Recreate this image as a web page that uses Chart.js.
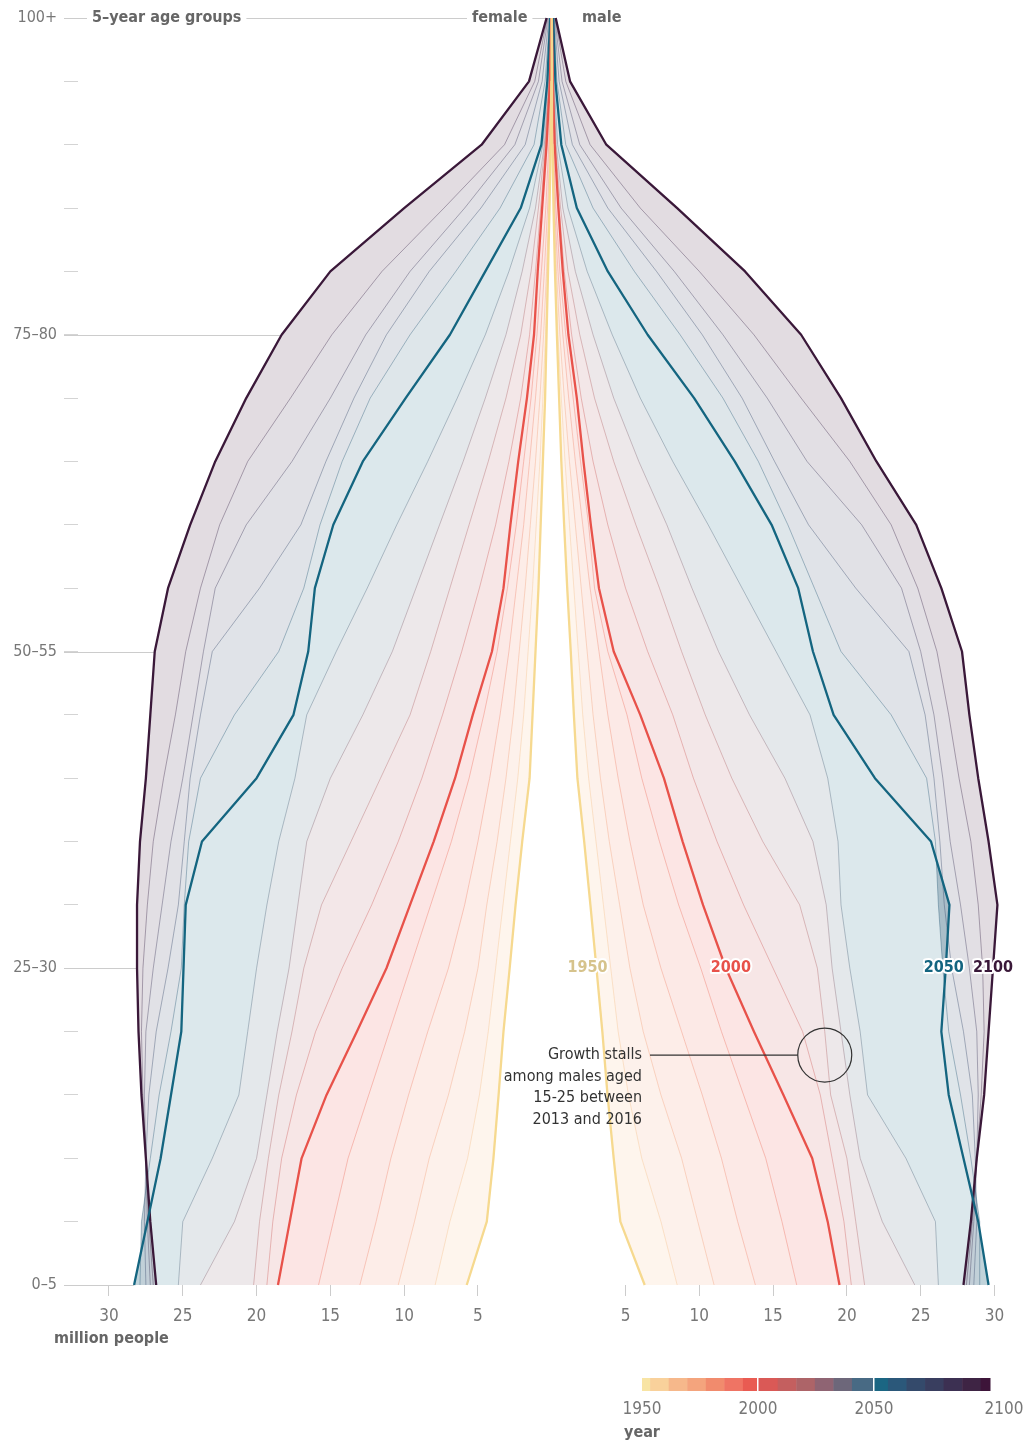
<!DOCTYPE html>
<html>
<head>
<meta charset="utf-8">
<script src="https://cdn.jsdelivr.net/npm/chart.js@4.4.1/dist/chart.umd.min.js"></script>
<style>
  html, body { margin: 0; padding: 0; background: #fff; }
  canvas { display: block; }
</style>
</head>
<body>
<canvas id="pyramid" width="1036" height="1447"></canvas>
<script>
// age groups, bottom to top
const ageGroups = ['0–5', '5–10', '10–15', '15–20', '20–25', '25–30', '30–35', '35–40', '40–45', '45–50',
  '50–55', '55–60', '60–65', '65–70', '70–75', '75–80', '80–85', '85–90', '90–95', '95–100', '100+'];
const labelledAges = [0, 5, 10, 15, 20];

const years = [1950, 1960, 1970, 1980, 1990, 2000, 2010, 2020, 2030, 2040, 2050, 2060, 2070, 2080, 2090, 2100];
const highlightYears = [1950, 2000, 2050, 2100];

// female, million people per age group
const f1950 = [5.76, 4.4, 3.95, 3.6, 3.27, 2.85, 2.45, 2.0, 1.5, 1.3, 1.1, 0.9, 0.75, 0.6, 0.45, 0.35, 0.25, 0.15, 0.07, 0.03, 0.01];
const f1960 = [7.9, 6.9, 5.7, 4.9, 4.3, 3.8, 3.3, 2.8, 2.3, 1.9, 1.6, 1.3, 1.05, 0.8, 0.6, 0.42, 0.28, 0.17, 0.08, 0.03, 0.01];
const f1970 = [10.4, 9.3, 8.3, 7.0, 5.9, 5.0, 4.4, 3.7, 3.1, 2.6, 2.2, 1.8, 1.45, 1.1, 0.8, 0.55, 0.35, 0.2, 0.1, 0.04, 0.01];
const f1980 = [13.0, 11.9, 10.9, 9.7, 8.4, 7.0, 5.9, 5.0, 4.2, 3.5, 2.9, 2.4, 1.9, 1.5, 1.1, 0.75, 0.5, 0.28, 0.13, 0.05, 0.02];
const f1990 = [15.8, 14.8, 13.8, 12.4, 11.0, 9.6, 8.2, 6.8, 5.6, 4.6, 3.7, 3.0, 2.4, 1.9, 1.4, 1.0, 0.7, 0.4, 0.2, 0.08, 0.02];
const f2000 = [18.55, 17.75, 16.95, 15.26, 13.2, 11.2, 9.6, 8.0, 6.55, 5.35, 4.05, 3.27, 2.8, 2.27, 1.68, 1.2, 0.95, 0.65, 0.35, 0.12, 0.03];
const f2010 = [19.3, 18.9, 18.3, 17.3, 16.0, 14.2, 12.2, 10.4, 8.8, 7.4, 6.1, 4.9, 3.8, 2.9, 2.1, 1.5, 1.1, 0.75, 0.4, 0.15, 0.04];
const f2020 = [20.2, 19.8, 19.2, 18.5, 17.6, 16.8, 15.6, 13.6, 11.6, 9.6, 8.2, 6.9, 5.6, 4.3, 3.1, 2.1, 1.4, 0.9, 0.45, 0.17, 0.05];
const f2030 = [23.8, 21.5, 20.0, 19.3, 18.6, 17.8, 17.2, 16.6, 15.0, 12.8, 10.8, 9.2, 7.6, 6.0, 4.5, 3.1, 2.0, 1.1, 0.5, 0.2, 0.06];
const f2040 = [25.3, 25.0, 23.0, 21.2, 20.6, 20.0, 19.3, 18.5, 17.4, 16.6, 14.6, 12.5, 10.5, 8.4, 6.4, 4.5, 2.9, 1.5, 0.6, 0.25, 0.08];
const f2050 = [28.3, 27.4, 26.5, 25.8, 25.1, 24.95, 24.8, 23.7, 20.0, 17.5, 16.5, 16.05, 14.8, 12.8, 9.9, 6.9, 4.5, 2.1, 0.7, 0.3, 0.1];
const f2060 = [27.9, 27.8, 27.2, 26.6, 25.8, 25.1, 24.9, 24.6, 23.8, 21.5, 18.5, 16.8, 15.7, 14.2, 12.3, 9.6, 6.5, 3.5, 1.2, 0.45, 0.14];
const f2070 = [27.5, 27.6, 27.5, 27.3, 26.8, 26.0, 25.3, 24.9, 24.5, 23.8, 23.0, 19.8, 17.0, 15.3, 13.4, 11.2, 8.3, 4.8, 1.8, 0.65, 0.19];
const f2080 = [27.2, 27.4, 27.5, 27.6, 27.5, 27.0, 26.4, 25.8, 25.0, 24.3, 23.6, 22.8, 20.7, 17.6, 15.0, 12.6, 9.6, 5.9, 2.5, 0.9, 0.25];
const f2090 = [27.0, 27.3, 27.5, 27.7, 27.8, 27.7, 27.4, 27.0, 26.3, 25.5, 24.8, 23.8, 22.5, 20.6, 17.7, 14.9, 11.5, 7.3, 3.2, 1.15, 0.3];
const f2100 = [26.8, 27.2, 27.5, 27.8, 28.0, 28.1, 28.1, 27.9, 27.5, 27.2, 26.9, 26.0, 24.5, 22.8, 20.7, 18.3, 15.0, 10.0, 4.75, 1.54, 0.35];

// male, million people per age group
const m1950 = [6.3, 4.65, 4.2, 3.78, 3.43, 3.03, 2.62, 2.2, 1.74, 1.5, 1.29, 1.05, 0.84, 0.65, 0.5, 0.35, 0.22, 0.12, 0.05, 0.02, 0.005];
const m1960 = [8.5, 7.4, 6.1, 5.2, 4.5, 4.0, 3.5, 3.0, 2.5, 2.1, 1.8, 1.5, 1.2, 0.9, 0.65, 0.42, 0.25, 0.13, 0.05, 0.02, 0.005];
const m1970 = [11.0, 9.9, 8.8, 7.4, 6.2, 5.3, 4.6, 3.9, 3.3, 2.8, 2.4, 2.0, 1.6, 1.2, 0.85, 0.55, 0.32, 0.16, 0.06, 0.02, 0.006];
const m1980 = [13.8, 12.6, 11.5, 10.2, 8.8, 7.4, 6.2, 5.3, 4.5, 3.8, 3.2, 2.6, 2.1, 1.6, 1.15, 0.75, 0.42, 0.2, 0.08, 0.03, 0.008];
const m1990 = [16.6, 15.6, 14.5, 13.0, 11.5, 10.1, 8.6, 7.3, 6.1, 5.1, 3.8, 2.9, 2.5, 1.95, 1.45, 0.95, 0.55, 0.28, 0.12, 0.04, 0.01];
const m2000 = [19.5, 18.7, 17.65, 15.7, 13.7, 11.8, 10.25, 8.87, 7.6, 6.0, 4.2, 3.2, 2.65, 2.15, 1.7, 1.13, 0.75, 0.45, 0.2, 0.07, 0.01];
const m2010 = [20.3, 19.8, 19.0, 18.2, 17.0, 15.0, 13.0, 11.2, 9.6, 8.2, 6.5, 5.0, 3.8, 2.8, 2.0, 1.35, 0.85, 0.5, 0.22, 0.08, 0.015];
const m2020 = [21.2, 20.6, 20.0, 18.9, 18.5, 18.0, 16.8, 14.3, 12.2, 10.4, 8.8, 7.3, 5.7, 4.2, 2.9, 1.9, 1.1, 0.6, 0.25, 0.1, 0.02];
const m2030 = [24.6, 22.4, 20.9, 20.2, 19.6, 19.0, 18.6, 17.7, 15.8, 13.4, 11.3, 9.5, 7.8, 5.9, 4.2, 2.8, 1.6, 0.75, 0.3, 0.12, 0.03];
const m2040 = [26.2, 26.0, 24.0, 21.4, 20.9, 20.2, 19.6, 19.4, 18.7, 17.5, 15.2, 12.9, 10.6, 8.2, 6.0, 4.1, 2.4, 1.1, 0.4, 0.16, 0.05];
const m2050 = [29.6, 28.9, 27.9, 26.9, 26.4, 26.7, 26.95, 25.7, 21.9, 19.1, 17.7, 16.7, 14.9, 12.4, 9.65, 6.5, 3.8, 1.7, 0.65, 0.25, 0.1];
const m2060 = [29.0, 29.0, 28.4, 27.7, 26.9, 26.5, 26.2, 26.0, 25.4, 23.0, 19.6, 17.8, 16.0, 14.0, 11.6, 8.7, 5.6, 2.8, 0.95, 0.35, 0.13];
const m2070 = [28.6, 28.8, 28.7, 28.5, 27.9, 27.1, 26.6, 26.3, 25.9, 25.3, 24.2, 20.6, 17.4, 15.1, 12.9, 10.2, 7.1, 3.8, 1.4, 0.5, 0.17];
const m2080 = [28.3, 28.6, 28.8, 28.9, 28.8, 28.3, 27.7, 27.0, 26.5, 25.9, 25.0, 23.7, 21.0, 17.3, 14.6, 11.6, 8.3, 4.7, 1.9, 0.7, 0.21];
const m2090 = [28.1, 28.5, 28.8, 29.1, 29.3, 29.2, 28.9, 28.4, 27.6, 26.9, 26.1, 24.8, 23.0, 20.2, 16.9, 13.7, 10.0, 6.0, 2.6, 0.95, 0.24];
const m2100 = [27.9, 28.4, 28.8, 29.3, 29.6, 29.9, 30.2, 29.6, 28.9, 28.3, 27.8, 26.4, 24.7, 22.0, 19.6, 16.9, 13.1, 8.5, 3.7, 1.24, 0.27];

const femaleSeries = [f1950, f1960, f1970, f1980, f1990, f2000, f2010, f2020, f2030, f2040, f2050, f2060, f2070, f2080, f2090, f2100];
const maleSeries = [m1950, m1960, m1970, m1980, m1990, m2000, m2010, m2020, m2030, m2040, m2050, m2060, m2070, m2080, m2090, m2100];

// year colour scale (legend steps)
const legendBreaks = [1950, 1953.5, 1961.5, 1969.5, 1977.5, 1985.5, 1993.5, 2000, 2008.5, 2016.5, 2024.5,
  2032.5, 2040.5, 2050, 2056, 2064, 2072, 2080, 2088, 2096, 2100];
const legendColors = ['#f8e4a4', '#f9d19b', '#f6b88b', '#f4a47d', '#f18b6d', '#ef7464', '#e95b52', '#da5956',
  '#c45f5f', '#ad6468', '#8f6473', '#6d677a', '#486a84', '#1b6683', '#2b587a', '#344a6b', '#393e5f',
  '#3c3052', '#3e2444', '#3d1439'];
const legendTicks = [1950, 2000, 2050, 2100];

const colorStops = [[1950, '#f7dc96'], [1975, '#f2906f'], [2000, '#e8524a'], [2025, '#a0636c'],
  [2050, '#166681'], [2075, '#383d60'], [2100, '#3b1638']];
const highlightColors = { 1950: '#f6d98f', 2000: '#e8524a', 2050: '#146580', 2100: '#3a1839' };
const labelColors = { 1950: '#d6c38c', 2000: '#e8524a', 2050: '#146580', 2100: '#3a1839' };

const FONT = "'Liberation Sans Narrow', 'DejaVu Sans Condensed', 'Roboto', sans-serif";

function hexRgb(h) {
  return [parseInt(h.slice(1, 3), 16), parseInt(h.slice(3, 5), 16), parseInt(h.slice(5, 7), 16)];
}
function yearColor(yr, alpha) {
  let i = 0;
  while (i < colorStops.length - 2 && yr > colorStops[i + 1][0]) i++;
  const [y0, c0] = colorStops[i], [y1, c1] = colorStops[i + 1];
  const t = Math.min(1, Math.max(0, (yr - y0) / (y1 - y0)));
  const a = hexRgb(c0), b = hexRgb(c1);
  const c = a.map((v, k) => Math.round(v + (b[k] - v) * t));
  return `rgba(${c[0]}, ${c[1]}, ${c[2]}, ${alpha})`;
}

// one dataset per year and side; female plotted to the left of zero
const datasets = [];
[femaleSeries, maleSeries].forEach((series, side) => {
  years.forEach((yr, k) => {
    const hl = highlightYears.includes(yr);
    datasets.push({
      label: (side === 0 ? 'female ' : 'male ') + yr,
      data: series[k].map((v, i) => ({ x: side === 0 ? -v : v, y: i })),
      borderColor: hl ? highlightColors[yr] : yearColor(yr, 0.38),
      borderWidth: hl ? 2.3 : 1,
      backgroundColor: yearColor(yr, 0.15),
      fill: k === 0 ? false : '-1',
      order: hl ? 0 : 1,
      clip: false,
      pointRadius: 0,
      tension: 0,
      borderJoinStyle: 'round'
    });
  });
});

// major grid lines run from the axis to the outer edge of the pyramid
const majorLines = {
  id: 'majorLines',
  beforeDatasetsDraw(chart) {
    const { ctx, scales: { x, y } } = chart;
    ctx.save();
    ctx.strokeStyle = '#cccccc';
    ctx.lineWidth = 1.2;
    labelledAges.forEach(i => {
      const outer = Math.max(...femaleSeries.map(s => s[i]));
      const py = Math.round(y.getPixelForValue(i)) + 0.5;
      ctx.beginPath();
      ctx.moveTo(64, py);
      ctx.lineTo(x.getPixelForValue(-outer), py);
      ctx.stroke();
    });
    ctx.restore();
  }
};

function boxedText(ctx, text, x, y) {
  const w = ctx.measureText(text).width;
  ctx.fillStyle = '#fff';
  ctx.fillRect(x - 5, y - 11, w + 10, 22);
  ctx.fillStyle = '#666';
  ctx.fillText(text, x, y);
}

const annotations = {
  id: 'annotations',
  afterDraw(chart) {
    const { ctx, scales: { x, y } } = chart;
    ctx.save();
    ctx.textBaseline = 'middle';

    // header
    ctx.font = `bold 16px ${FONT}`;
    ctx.textAlign = 'left';
    const topY = y.getPixelForValue(20);
    boxedText(ctx, '5–year age groups', 92, topY);
    boxedText(ctx, 'female', 472, topY);
    ctx.fillStyle = '#666';
    ctx.fillText('male', 582, topY);

    // year labels, placed on each highlighted male line at 25–30
    ctx.font = `bold 16px ${FONT}`;
    ctx.textAlign = 'center';
    ctx.lineJoin = 'round';
    const labelAge = 5;
    const nudge = { 1950: -9, 2000: 5, 2050: -2, 2100: 0 };
    highlightYears.forEach(yr => {
      const v = maleSeries[years.indexOf(yr)][labelAge];
      const px = x.getPixelForValue(v) + nudge[yr];
      const py = y.getPixelForValue(labelAge);
      ctx.strokeStyle = '#fff';
      ctx.lineWidth = 4;
      ctx.strokeText(String(yr), px, py);
      ctx.fillStyle = labelColors[yr];
      ctx.fillText(String(yr), px, py);
    });

    // note on the stall
    const cx = x.getPixelForValue(18.5), cy = y.getPixelForValue(3.63);
    ctx.strokeStyle = '#333';
    ctx.lineWidth = 1.2;
    ctx.beginPath();
    ctx.arc(cx, cy, 27, 0, Math.PI * 2);
    ctx.stroke();
    ctx.beginPath();
    ctx.moveTo(650, cy);
    ctx.lineTo(cx - 27, cy);
    ctx.stroke();
    ctx.font = `16px ${FONT}`;
    ctx.textAlign = 'right';
    ctx.fillStyle = '#333';
    ['Growth stalls', 'among males aged', '15-25 between', '2013 and 2016'].forEach((t, i) => {
      ctx.fillText(t, 642, cy + i * 21.5);
    });

    // axis title
    ctx.font = `bold 16px ${FONT}`;
    ctx.textAlign = 'left';
    ctx.fillStyle = '#666';
    ctx.fillText('million people', 54, 1339);

    // year legend
    const lx0 = 642, lx1 = 990, ly = 1378, lh = 13;
    const px = yr => lx0 + (yr - 1950) / 150 * (lx1 - lx0);
    legendColors.forEach((c, i) => {
      ctx.fillStyle = c;
      ctx.fillRect(px(legendBreaks[i]), ly, px(legendBreaks[i + 1]) - px(legendBreaks[i]) + 0.5, lh);
    });
    ctx.fillStyle = '#fff';
    [2000, 2050].forEach(yr => ctx.fillRect(Math.round(px(yr)) - 1, ly, 1.5, lh));
    ctx.font = `17px ${FONT}`;
    ctx.textAlign = 'center';
    ctx.fillStyle = '#777';
    legendTicks.forEach(yr => ctx.fillText(String(yr), yr === 2100 ? px(yr) + 14 : px(yr), 1410));
    ctx.font = `bold 16px ${FONT}`;
    ctx.textAlign = 'left';
    ctx.fillStyle = '#666';
    ctx.fillText('year', 624, 1433);
    ctx.restore();
  }
};

Chart.defaults.font.family = FONT;

new Chart(document.getElementById('pyramid'), {
  type: 'line',
  data: { datasets },
  options: {
    indexAxis: 'y',
    responsive: false,
    animation: false,
    events: [],
    layout: { padding: { top: 18, left: 0, right: 16, bottom: 0 } },
    plugins: {
      legend: { display: false },
      tooltip: { enabled: false },
      filler: { propagate: false, drawTime: 'beforeDatasetsDraw' }
    },
    scales: {
      x: {
        type: 'linear',
        min: -32.1,
        max: 31.73,
        afterFit: s => { s.height = 162; },
        border: { display: false },
        grid: {
          drawOnChartArea: false,
          tickLength: 11,
          color: c => (c.tick && c.tick.value === 0 ? 'rgba(0,0,0,0)' : '#cccccc')
        },
        ticks: {
          stepSize: 5,
          includeBounds: false,
          autoSkip: false,
          maxRotation: 0,
          padding: 10,
          color: '#777',
          font: { size: 17 },
          callback: v => (v === 0 ? '' : String(Math.abs(v)))
        }
      },
      y: {
        type: 'linear',
        min: 0,
        max: 20,
        afterFit: s => { s.width = 78; },
        border: { display: false },
        grid: { drawOnChartArea: false, tickLength: 14, color: '#d4d4d4' },
        ticks: {
          stepSize: 1,
          autoSkip: false,
          padding: 7,
          color: '#777',
          font: { size: 16 },
          callback: v => (labelledAges.includes(v) ? ageGroups[v] : '')
        }
      }
    }
  },
  plugins: [majorLines, annotations]
});
</script>
</body>
</html>
